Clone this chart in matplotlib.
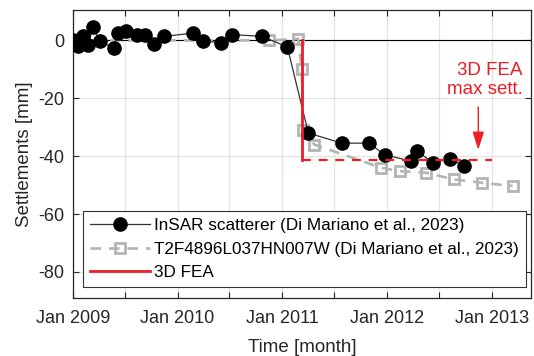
import matplotlib
matplotlib.use("Agg")
import matplotlib.pyplot as plt
import pandas as pd

plt.rcParams['font.family'] = ['Liberation Sans', 'DejaVu Sans']

# InSAR scatterer (Di Mariano et al., 2023)
insar_dates = ['2009-01-01', '2009-01-19', '2009-02-06', '2009-02-24', '2009-03-11',
               '2009-04-05', '2009-05-23', '2009-06-07', '2009-07-06', '2009-08-11',
               '2009-09-09', '2009-10-12', '2009-11-14', '2010-02-24', '2010-03-29',
               '2010-06-03', '2010-07-09', '2010-10-23', '2011-01-19', '2011-04-02',
               '2011-07-28', '2011-10-31', '2011-12-24', '2012-03-25', '2012-04-16',
               '2012-06-10', '2012-08-07', '2012-09-27']
insar_sett = [0.2, -2.0, 1.4, -1.5, 4.8,
              -0.3, -2.6, 2.5, 3.1, 2.0,
              2.0, -1.3, 1.4, 2.5, -0.1,
              -0.9, 2.0, 1.4, -2.3, -32.0,
              -35.5, -35.5, -39.5, -41.7, -38.3,
              -42.3, -40.9, -43.4]

# T2F4896L037HN007W (Di Mariano et al., 2023)
t2f_dates = ['2009-01-01', '2010-11-17', '2011-02-26', '2011-03-10', '2011-03-15',
             '2011-04-23', '2011-12-13', '2012-02-17', '2012-05-15', '2012-08-22',
             '2012-11-28', '2013-03-15']
t2f_sett = [0.0, 0.0, 0.5, -10.0, -31.0,
            -36.0, -44.0, -45.2, -45.7, -48.0,
            -49.2, -50.3]

# 3D FEA
fea_dates = ['2011-03-10', '2011-03-10']
fea_sett = [0.0, -41.4]
fea_max_dates = ['2011-03-10', '2013-01-01']
fea_max_sett = [-41.4, -41.4]

xtick_dates = ['2009-01-01', '2009-07-01', '2010-01-01', '2010-07-01', '2011-01-01',
               '2011-07-01', '2012-01-01', '2012-07-01', '2013-01-01']
xtick_labels = ['Jan 2009', '', 'Jan 2010', '', 'Jan 2011', '', 'Jan 2012', '', 'Jan 2013']
yticks = [-80, -60, -40, -20, 0]

to_dt = pd.to_datetime

fig = plt.figure(figsize=(5.34, 3.56), dpi=100)
ax = fig.add_axes([0.1367, 0.1629, 0.8577, 0.809])

red = '#ee1c24'
gray = '#b4b4b4'

ax.axhline(0, color='black', lw=0.8, zorder=1)

ax.plot(to_dt(insar_dates), insar_sett, '-', color='#333333', lw=0.9,
        marker='o', ms=9.5, mfc='black', mec='black', zorder=4,
        label='InSAR scatterer (Di Mariano et al., 2023)')
ax.plot(to_dt(t2f_dates), t2f_sett, color=gray, lw=1.9, ls=(0, (4, 3)),
        marker='s', ms=7, mfc='none', mec=gray, mew=2, zorder=3,
        label='T2F4896L037HN007W (Di Mariano et al., 2023)')
ax.plot(to_dt(fea_dates), fea_sett, color=red, lw=2.0, zorder=5, label='3D FEA')
ax.plot(to_dt(fea_max_dates), fea_max_sett, color=red, lw=1.6, ls=(0, (4, 3.5)), zorder=5)

ax.annotate('', xy=(to_dt('2012-11-15'), -37.8), xytext=(to_dt('2012-11-15'), -23),
            arrowprops=dict(arrowstyle='-|>,head_length=1.1,head_width=0.35',
                            color=red, lw=1.0, shrinkA=0, shrinkB=0), zorder=6)
ax.text(to_dt('2013-04-20'), -7.5, '3D FEA\nmax sett.', color=red, fontsize=13.5,
        ha='right', va='top', multialignment='right', linespacing=1.15, zorder=6)

ax.set_xlim(to_dt('2009-01-01'), to_dt('2013-05-18'))
ax.set_ylim(-89, 10.5)
ax.set_xticks(to_dt(xtick_dates))
ax.set_xticklabels(xtick_labels)
ax.set_yticks(yticks)
ax.set_yticklabels([str(v) for v in yticks])

ax.grid(True, color='#e3e3e3', lw=0.9, zorder=0)
ax.set_axisbelow(True)
ax.tick_params(direction='in', length=4, width=0.8, top=True, right=True,
               labelsize=13, colors='#262626')
ax.tick_params(axis='x', pad=8.5)
ax.tick_params(axis='y', pad=6)
for s in ax.spines.values():
    s.set_color('#262626')
    s.set_linewidth(0.9)

ax.set_xlabel('Time [month]', fontsize=13.5, color='#262626', labelpad=9)
ax.set_ylabel('Settlements [mm]', fontsize=13.5, color='#262626', labelpad=4)

leg = ax.legend(loc='lower left', bbox_to_anchor=(0.022, 0.038), borderaxespad=0,
                fontsize=12.3, frameon=True, fancybox=False, edgecolor='#333333',
                framealpha=1, handlelength=3.5, handletextpad=0.25,
                labelspacing=0.5, borderpad=0.4)
leg.get_frame().set_linewidth(0.8)
leg.set_zorder(10)

fig.savefig('out.png', dpi=100)
